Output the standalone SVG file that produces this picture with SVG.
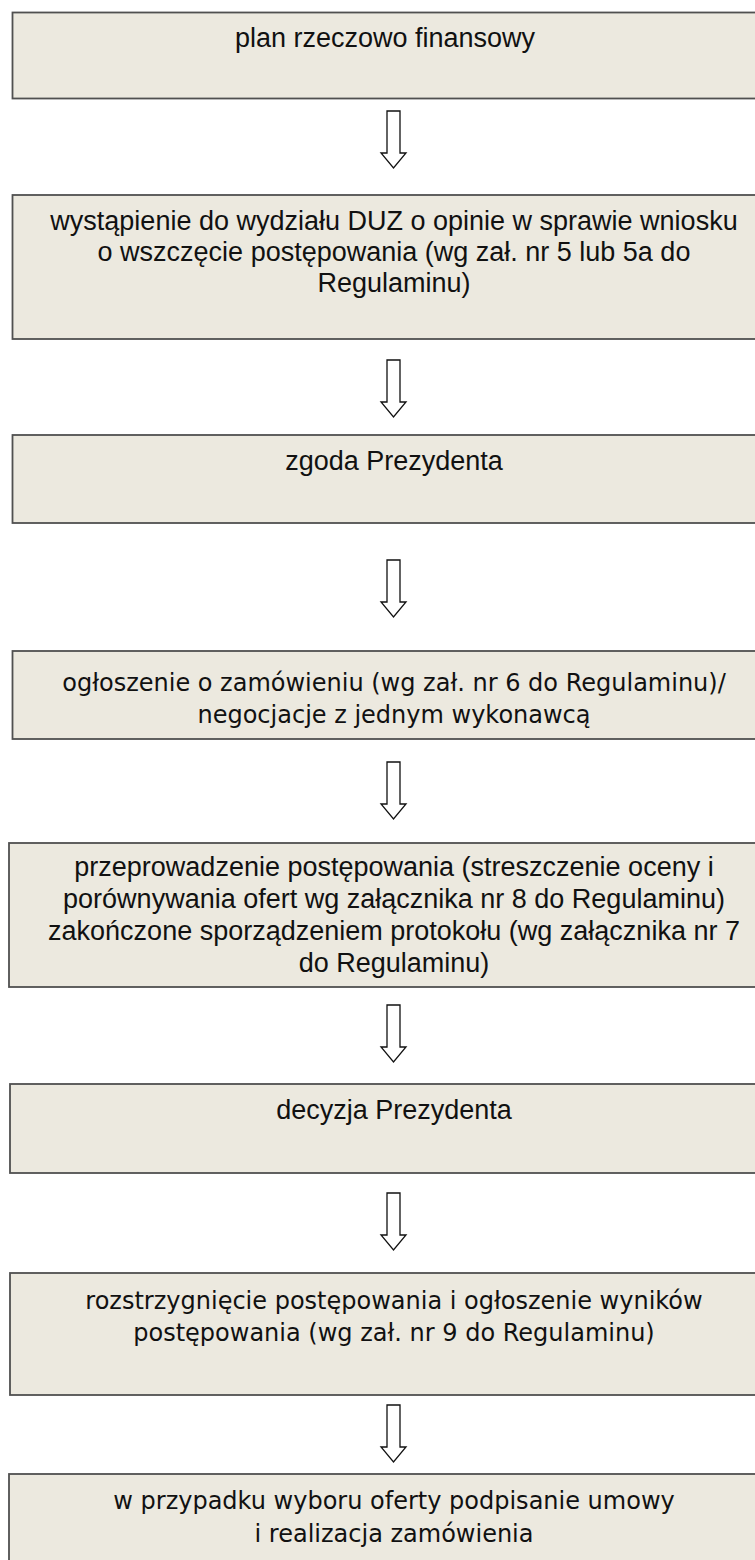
<svg xmlns="http://www.w3.org/2000/svg" width="755" height="1560" viewBox="0 0 755 1560">
<style>
.box{fill:#ECE9DF;stroke:#505050;stroke-width:1.8}
.a{font-family:"Liberation Sans",Arial,sans-serif;font-size:27px;fill:#111;text-anchor:middle}
.d{font-family:"DejaVu Sans",Verdana,sans-serif;font-size:24px;fill:#111;text-anchor:middle}
.arr{fill:#fff;stroke:#111;stroke-width:1.3;stroke-linejoin:miter}
</style>
<defs>
<path id="arrow" d="M-6.5,0 H6.5 V42 H12.5 L0,57 L-12.5,42 H-6.5 Z"/>
</defs>
<rect width="755" height="1560" fill="#fff"/>
<g id="n1"><rect class="box" x="12.5" y="12.5" width="760" height="86"/><text class="a" x="385" y="47">plan rzeczowo finansowy</text></g>
<g id="n2"><rect class="box" x="12.5" y="195" width="760" height="144"/><text class="a" x="394" y="230">wystąpienie do wydziału DUZ o opinie w sprawie wniosku</text><text class="a" x="394" y="261">o wszczęcie postępowania (wg zał. nr 5 lub 5a do</text><text class="a" x="394" y="292">Regulaminu)</text></g>
<g id="n3"><rect class="box" x="12.5" y="435" width="760" height="88"/><text class="a" x="394" y="470">zgoda Prezydenta</text></g>
<g id="n4"><rect class="box" x="12.5" y="651" width="760" height="88"/><text class="d" x="394" y="691">ogłoszenie o zamówieniu (wg zał. nr 6 do Regulaminu)/</text><text class="d" x="394" y="723">negocjacje z jednym wykonawcą</text></g>
<g id="n5"><rect class="box" x="9" y="843" width="760" height="144"/><text class="a" x="394" y="876">przeprowadzenie postępowania (streszczenie oceny i</text><text class="a" x="394" y="908">porównywania ofert wg załącznika nr 8 do Regulaminu)</text><text class="a" x="394" y="940">zakończone sporządzeniem protokołu (wg załącznika nr 7</text><text class="a" x="394" y="972">do Regulaminu)</text></g>
<g id="n6"><rect class="box" x="10" y="1084" width="760" height="89"/><text class="a" x="394" y="1119">decyzja Prezydenta</text></g>
<g id="n7"><rect class="box" x="10" y="1273" width="760" height="122"/><text class="d" x="394" y="1309">rozstrzygnięcie postępowania i ogłoszenie wyników</text><text class="d" x="394" y="1341">postępowania (wg zał. nr 9 do Regulaminu)</text></g>
<g id="n8"><rect class="box" x="9" y="1474" width="760" height="100"/><text class="d" x="394" y="1509">w przypadku wyboru oferty podpisanie umowy</text><text class="d" x="394" y="1542">i realizacja zamówienia</text></g>
<g id="connectors">
<use href="#arrow" class="arr" x="393.5" y="111"/>
<use href="#arrow" class="arr" x="393.5" y="360"/>
<use href="#arrow" class="arr" x="393.5" y="560"/>
<use href="#arrow" class="arr" x="393.5" y="762"/>
<use href="#arrow" class="arr" x="393.5" y="1005"/>
<use href="#arrow" class="arr" x="393.5" y="1193"/>
<use href="#arrow" class="arr" x="393.5" y="1405"/>
</g>
</svg>
